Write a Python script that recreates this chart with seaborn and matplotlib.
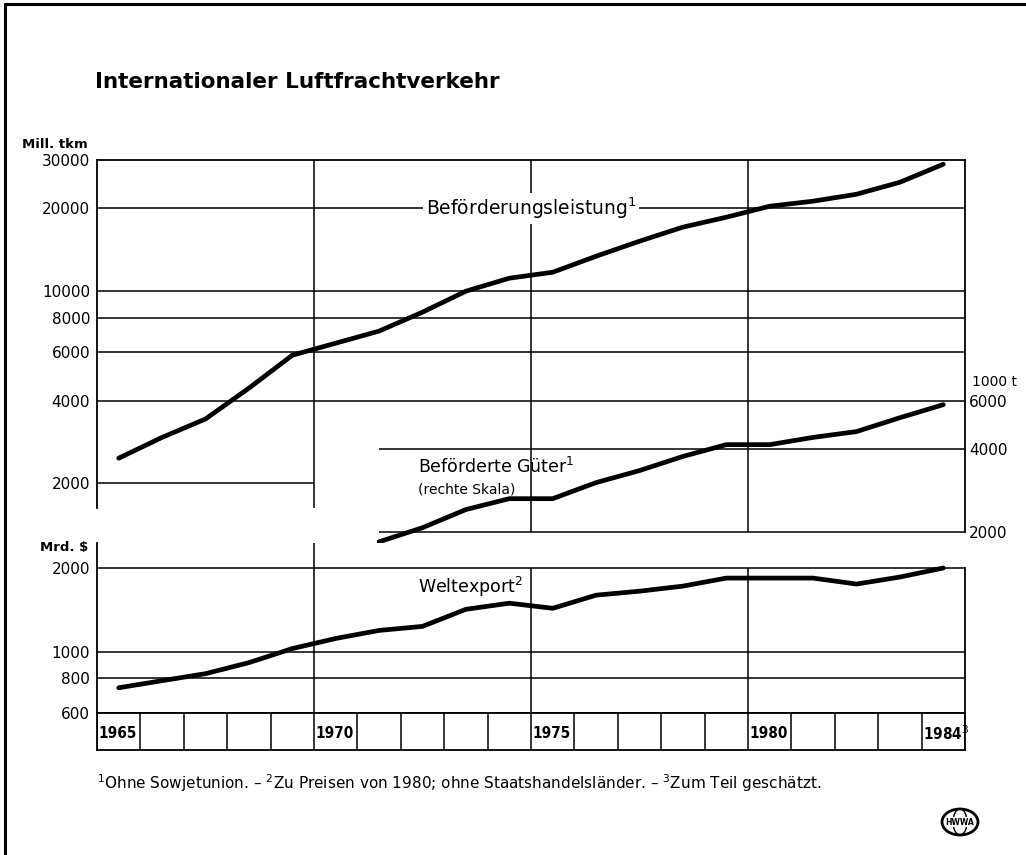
import matplotlib
matplotlib.use("Agg")
import matplotlib.pyplot as plt
from matplotlib.lines import Line2D
from matplotlib.patches import Ellipse
import seaborn as sns

# Daten
jahre = list(range(1965, 1985))
leistung = [2470, 2940, 3430, 4440, 5850, 6470, 7160, 8390, 10000, 11150,
            11720, 13400, 15200, 17100, 18580, 20370, 21250, 22520, 24900, 28960]
gueter_jahre = list(range(1971, 1985))
gueter = [1840, 2070, 2410, 2640, 2640, 3020, 3340, 3760, 4150, 4150,
          4410, 4630, 5200, 5800]
weltexport = [740, 785, 832, 912, 1025, 1115, 1192, 1233, 1421, 1495,
              1433, 1598, 1652, 1723, 1842, 1842, 1842, 1753, 1858, 2003]

ticks_oben = [2000, 4000, 6000, 8000, 10000, 20000, 30000]
ticks_rechts = [2000, 4000, 6000]
ticks_unten = [600, 800, 1000, 2000]
jahr_labels = {1965: '1965', 1970: '1970', 1975: '1975', 1980: '1980', 1984: '1984$^3$'}

sns.set_style("white", {'text.color': 'black', 'ytick.color': 'black',
                        'xtick.color': 'black', 'axes.edgecolor': 'black'})
plt.rcParams['font.family'] = ['DejaVu Sans']

W, H = 1026, 855
def box(x0, y0, x1, y1):
    return [x0 / W, 1 - y1 / H, (x1 - x0) / W, (y1 - y0) / H]

fig = plt.figure(figsize=(W / 100, H / 100), dpi=100)
schwarz = 'black'
lw_grid = 1.1

# --- oberer Teil: Beförderungsleistung (links) und Güter (rechts) ---
ax = fig.add_axes(box(97, 160, 965, 545))
ax.set_yscale('log')
ax.set_xlim(1965, 1985)
ax.set_ylim(1194, 30000)
ax2 = ax.twinx()
ax2.set_yscale('log')
ax2.set_ylim(1194 * 1.5, 45000)

ax.hlines([4000, 6000, 8000, 10000, 20000], 1965, 1985, color=schwarz, lw=lw_grid)
ax.hlines(2000, 1965, 1970, color=schwarz, lw=lw_grid)
ax2.hlines([2000, 4000], 1971.5, 1985, color=schwarz, lw=lw_grid)
ax.vlines(1970, 1629, 30000, color=schwarz, lw=lw_grid)
ax.vlines([1975, 1980], 1333, 30000, color=schwarz, lw=lw_grid)

sns.lineplot(x=[j + 0.5 for j in jahre], y=leistung, ax=ax, color=schwarz, lw=3.4)
sns.lineplot(x=[j + 0.5 for j in gueter_jahre], y=gueter, ax=ax2, color=schwarz, lw=3.4)

for a in (ax, ax2):
    for s in a.spines.values():
        s.set_visible(False)
    a.yaxis.set_minor_locator(plt.NullLocator())
    a.set_xticks([])
    a.tick_params(axis='y', length=0, pad=5, labelsize=11)
ax.spines['left'].set_visible(True)
ax.spines['left'].set_bounds(1629, 30000)
ax.spines['top'].set_visible(True)
ax2.spines['right'].set_visible(True)
ax2.spines['right'].set_bounds(2000, 45000)
for s in (ax.spines['left'], ax.spines['top'], ax2.spines['right']):
    s.set_color(schwarz)
    s.set_linewidth(1.3)
ax.set_yticks(ticks_oben, labels=[str(t) for t in ticks_oben])
ax2.set_yticks(ticks_rechts, labels=[str(t) for t in ticks_rechts])
ax2.tick_params(axis='y', pad=3)

ax.text(1975, 20000, 'Beförderungsleistung$^1$', ha='center', va='center', fontsize=13.5,
        bbox=dict(facecolor='white', edgecolor='none', pad=2))
ax2.text(1972.4, 3450, 'Beförderte Güter$^1$', ha='left', va='center', fontsize=12.5)
ax2.text(1972.4, 2850, '(rechte Skala)', ha='left', va='center', fontsize=10)

# --- unterer Teil: Weltexport ---
axl = fig.add_axes(box(97, 543, 965, 713))
axl.set_yscale('log')
axl.set_xlim(1965, 1985)
axl.set_ylim(600, 2466)
axl.hlines([800, 1000, 2000], 1965, 1985, color=schwarz, lw=lw_grid)
axl.vlines(1970, 600, 2466, color=schwarz, lw=lw_grid)
axl.vlines([1975, 1980], 600, 2000, color=schwarz, lw=lw_grid)
sns.lineplot(x=[j + 0.5 for j in jahre], y=weltexport, ax=axl, color=schwarz, lw=3.4)
for s in axl.spines.values():
    s.set_color(schwarz)
    s.set_linewidth(1.3)
axl.spines['top'].set_visible(False)
axl.spines['right'].set_bounds(600, 2000)
axl.yaxis.set_minor_locator(plt.NullLocator())
axl.set_yticks(ticks_unten, labels=[str(t) for t in ticks_unten])
axl.set_xticks([])
axl.tick_params(axis='y', length=0, pad=5, labelsize=11)
axl.text(1972.4, 1709, 'Weltexport$^2$', ha='left', va='center', fontsize=12.5)

# --- Jahreskästchen ---
axj = fig.add_axes(box(97, 713, 965, 750))
axj.set_xlim(1965, 1985)
axj.set_ylim(0, 1)
axj.vlines(range(1965, 1986), 0, 1, color=schwarz, lw=lw_grid)
for s in axj.spines.values():
    s.set_color(schwarz)
    s.set_linewidth(1.3)
axj.set_xticks([])
axj.set_yticks([])
for j, t in jahr_labels.items():
    axj.text(j + 0.04, 0.45, t, ha='left', va='center', fontsize=11,
             fontweight='bold', fontstretch='condensed')

# --- Texte ---
fig.text(95 / W, 1 - 82 / H, 'Internationaler Luftfrachtverkehr', ha='left', va='center',
         fontsize=15.5, fontweight='bold')
fig.text(88 / W, 1 - 145 / H, 'Mill. tkm', ha='right', va='center', fontsize=9.5, fontweight='bold')
fig.text(88 / W, 1 - 547 / H, 'Mrd. $', ha='right', va='center', fontsize=9.5, fontweight='bold')
fig.text(972 / W, 1 - 382 / H, '1000 t', ha='left', va='center', fontsize=10)
fig.text(97 / W, 1 - 783 / H,
         '$^1$Ohne Sowjetunion. – $^2$Zu Preisen von 1980; ohne Staatshandelsländer. – $^3$Zum Teil geschätzt.',
         ha='left', va='center', fontsize=11)

# Rahmen
fig.add_artist(Line2D([5 / W, 5 / W], [0, 1 - 4 / H], color=schwarz, lw=2.2))
fig.add_artist(Line2D([5 / W, 1], [1 - 4 / H, 1 - 4 / H], color=schwarz, lw=2.2))

# Signet
fig.add_artist(Ellipse((960 / W, 1 - 822 / H), 36 / W, 26 / H, transform=fig.transFigure,
                       facecolor='white', edgecolor=schwarz, lw=2))
fig.add_artist(Ellipse((960 / W, 1 - 822 / H), 14 / W, 26 / H, transform=fig.transFigure,
                       facecolor='none', edgecolor=schwarz, lw=1))
fig.text(960 / W, 1 - 822 / H, 'HWWA', ha='center', va='center', fontsize=5.5, fontweight='bold',
         bbox=dict(facecolor='white', edgecolor='none', pad=0.3))

fig.savefig('out.png', dpi=100)
